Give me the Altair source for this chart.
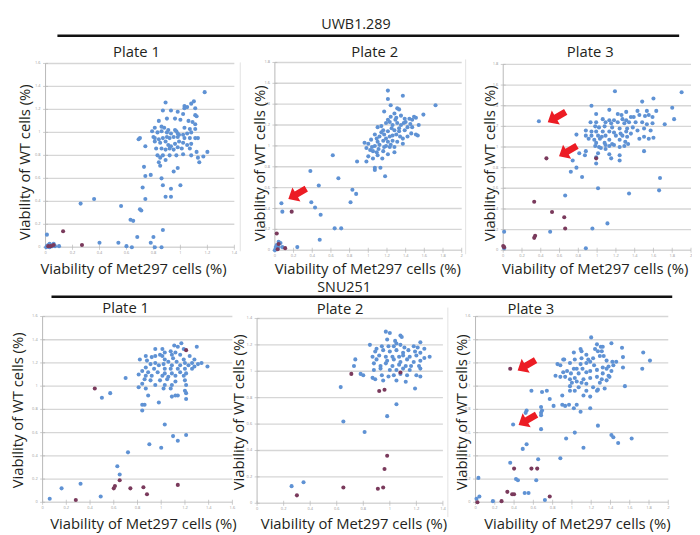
import altair as alt
import pandas as pd

# ---------------- data ----------------
TICKS_14 = [0, 0.2, 0.4, 0.6, 0.8, 1.0, 1.2, 1.4]
TICKS_16 = [0, 0.2, 0.4, 0.6, 0.8, 1.0, 1.2, 1.4, 1.6]
TICKS_18 = [0, 0.2, 0.4, 0.6, 0.8, 1.0, 1.2, 1.4, 1.6, 1.8]
TICKS_20 = [0, 0.2, 0.4, 0.6, 0.8, 1.0, 1.2, 1.4, 1.6, 1.8, 2.0]

# UWB1.289 plate 1
u1_blue = [(1.18,1.35),(0.89,1.26),(1.10,1.27),(1.08,1.25),(1.03,1.23),(1.05,1.22),(1.11,1.21),(0.87,1.19),(0.93,1.19),(1.03,1.21),
           (0.98,1.18),(1.02,1.16),(1.11,1.15),(1.12,1.14),(0.84,1.10),(0.90,1.12),(0.96,1.12),(1.00,1.11),(1.06,1.10),(1.09,1.09),
           (1.11,1.07),(0.86,1.05),(0.81,1.04),(0.88,1.04),(0.91,1.02),(0.96,1.02),(1.03,1.04),(1.07,1.03),(1.11,1.03),(0.79,1.01),
           (0.83,1.00),(0.86,1.01),(0.90,1.00),(0.93,0.99),(0.97,1.01),(0.98,0.99),(0.99,0.98),(1.02,0.98),(1.05,0.99),(1.08,1.00),
           (1.13,0.95),(0.69,0.94),(0.70,0.95),(0.80,0.96),(0.81,0.95),(0.84,0.94),(0.87,0.95),(0.90,0.96),(0.92,0.95),(0.95,0.96),
           (0.98,0.96),(1.03,0.95),(1.07,0.95),(1.11,0.95),(0.81,0.92),(0.85,0.91),(0.89,0.92),(0.91,0.89),(0.93,0.88),(0.96,0.90),
           (0.99,0.92),(1.02,0.91),(1.05,0.89),(1.08,0.90),(0.74,0.88),(0.82,0.86),(0.86,0.86),(0.89,0.85),(0.92,0.86),(0.95,0.85),
           (0.98,0.87),(1.01,0.86),(1.07,0.86),(1.12,0.83),(1.20,0.83),(1.17,0.79),(1.13,0.78),(1.08,0.80),(1.02,0.81),(0.97,0.80),
           (0.92,0.80),(0.87,0.80),(0.83,0.80),(0.85,0.78),(0.84,0.74),(0.89,0.76),(1.14,0.74),(0.85,0.71),(0.98,0.69),(0.95,0.66),
           (0.73,0.70),(0.78,0.63),(0.74,0.62),(0.86,0.60),(0.87,0.54),(1.00,0.54),(0.93,0.51),(0.72,0.52),(0.89,0.44),(0.93,0.44),
           (0.74,0.42),(0.26,0.38),(0.36,0.42),(0.56,0.36),(0.70,0.33),(0.71,0.32),(0.63,0.24),(0.65,0.23),(0.68,0.09),(0.87,0.15),
           (0.01,0.11),(0.40,0.04),(0.54,0.04),(0.60,0.01),(0.64,0.00),(0.80,0.09),(0.78,0.04),(0.81,0.00),(0.86,0.00),(0.10,0.01),
           (0.005,0.00),(0.01,0.01),(0.02,0.02),(0.03,0.00),(0.04,0.02),(0.05,0.01),(0.06,0.03),(0.03,0.03),(0.07,0.01)]
u1_dark = [(0.13,0.14),(0.27,0.02),(0.02,0.01),(0.04,0.01),(0.06,0.02)]
u1_arrows = []

# UWB1.289 plate 2
u2_blue = [(1.21,1.53),(1.37,1.48),(1.21,1.45),(1.72,1.39),(1.24,1.39),(1.31,1.36),(1.33,1.35),(1.17,1.33),(1.28,1.31),(1.35,1.29),
           (1.59,1.30),(1.49,1.28),(1.51,1.27),(1.24,1.28),(1.30,1.27),(1.39,1.26),(1.44,1.26),(1.47,1.25),(1.21,1.25),(1.10,1.18),
           (1.14,1.19),(1.19,1.22),(1.23,1.23),(1.26,1.20),(1.31,1.22),(1.35,1.20),(1.40,1.23),(1.42,1.18),(1.47,1.18),(1.54,1.20),
           (1.16,1.15),(1.21,1.14),(1.28,1.15),(1.33,1.14),(1.39,1.15),(1.46,1.12),(1.53,1.10),(1.07,1.11),(1.12,1.09),(1.17,1.11),
           (1.23,1.09),(1.30,1.11),(1.37,1.07),(1.42,1.09),(1.03,1.06),(1.10,1.04),(1.16,1.05),(1.21,1.04),(1.26,1.05),(1.31,1.04),
           (1.37,1.02),(0.96,1.03),(1.00,1.02),(1.07,1.00),(1.12,1.01),(1.17,0.99),(1.23,0.99),(1.28,0.99),(1.51,1.11),(0.98,0.98),
           (1.02,0.96),(1.05,0.95),(1.09,0.94),(1.16,0.95),(1.21,0.92),(1.28,0.94),(1.00,0.90),(1.05,0.88),(1.10,0.91),(0.98,0.85),
           (1.07,0.79),(1.13,0.79),(1.07,0.77),(1.18,0.71),(0.88,0.85),(0.62,0.91),(0.38,0.76),(0.68,0.69),(0.47,0.62),(0.83,0.58),
           (0.87,0.54),(0.81,0.46),(0.39,0.46),(0.43,0.41),(0.49,0.34),(0.07,0.45),(0.08,0.37),(0.64,0.21),(0.71,0.21),(0.48,0.10),
           (0.24,0.03),(1.25,1.17),(1.33,1.17),(1.19,1.07),(1.34,1.09),(1.14,1.13),(1.29,1.25),(1.38,1.22),(1.45,1.21),(1.26,1.10),
           (1.19,1.00),(1.11,0.97),(1.24,1.01),(1.04,0.99),(1.15,0.88),(1.09,1.07),
           (0.01,0.02),(0.02,0.05),(0.04,0.08),(0.06,0.07),(0.00,0.00),(0.04,0.03),(0.08,0.03),(0.01,0.03)]
u2_dark = [(0.18,0.37),(0.02,0.16),(0.11,0.02),(0.04,0.06),(0.03,0.01)]
u2_arrows = [(0.24,0.54)]

# UWB1.289 plate 3
u3_blue = [(1.19,1.54),(1.90,1.53),(1.48,1.44),(1.60,1.47),(0.94,1.40),(1.80,1.38),(1.13,1.36),(1.53,1.35),(1.63,1.35),(1.31,1.34),
           (1.43,1.35),(0.99,1.32),(1.22,1.32),(1.26,1.31),(1.36,1.29),(1.39,1.29),(1.45,1.31),(1.51,1.30),(1.55,1.31),(1.59,1.29),
           (1.82,1.27),(1.06,1.27),(1.13,1.26),(1.18,1.26),(1.27,1.27),(1.31,1.26),(0.93,1.24),(0.99,1.24),(1.09,1.24),(1.15,1.23),
           (1.22,1.24),(1.29,1.23),(1.34,1.24),(1.41,1.24),(1.48,1.24),(1.53,1.22),(1.59,1.23),(1.72,1.22),(0.98,1.20),(1.02,1.19),
           (1.08,1.20),(1.16,1.19),(1.24,1.18),(1.32,1.18),(1.38,1.19),(1.43,1.16),(1.50,1.18),(1.57,1.16),(0.88,1.16),(0.94,1.15),
           (0.99,1.15),(1.06,1.15),(1.13,1.15),(1.18,1.14),(1.25,1.13),(1.31,1.15),(1.36,1.13),(0.78,1.12),(0.88,1.11),(0.94,1.11),
           (1.01,1.11),(1.05,1.10),(1.09,1.11),(1.20,1.11),(1.27,1.11),(1.32,1.10),(1.45,1.08),(1.50,1.10),(1.55,1.08),(1.60,1.09),
           (0.91,1.08),(0.97,1.07),(1.03,1.08),(1.13,1.07),(1.24,1.07),(1.30,1.05),(0.99,1.04),(1.08,1.04),(1.16,1.03),(0.98,1.01),
           (1.02,1.00),(1.09,1.02),(1.13,1.01),(1.18,1.02),(1.24,1.00),(1.29,1.01),(1.33,1.03),(1.04,0.99),(1.09,0.98),(0.88,0.96),
           (0.81,0.94),(1.01,0.94),(1.13,0.93),(1.24,0.92),(0.87,0.92),(0.99,0.90),(1.15,0.89),(1.24,0.87),(0.99,0.84),(1.50,0.96),
           (0.74,0.87),(0.78,0.80),(0.72,0.76),(0.84,0.71),(1.67,0.70),(1.66,0.58),(1.01,0.60),(1.34,0.55),(0.66,0.53),(1.11,0.26),
           (0.95,0.21),(0.50,0.18),(0.01,0.18),(0.88,0.02),(0.38,1.25),(0.01,0.02)]
u3_dark = [(0.46,0.89),(0.99,0.89),(0.33,0.47),(0.52,0.37),(0.65,0.32),(0.66,0.21),(0.33,0.12),(0.34,0.14),(0.01,0.03),(0.00,0.04)]
u3_arrows = [(0.57,1.29),(0.69,0.96)]

# SNU251 plate 1
s1_blue = [(1.17,1.37),(1.11,1.35),(0.95,1.32),(1.01,1.32),(1.30,1.34),(1.14,1.34),(1.19,1.32),(1.08,1.30),(1.03,1.29),(1.12,1.29),
           (0.99,1.27),(0.95,1.26),(1.01,1.26),(1.09,1.27),(1.16,1.27),(1.24,1.26),(0.87,1.26),(0.92,1.25),(1.03,1.23),(1.10,1.24),
           (1.19,1.23),(1.28,1.23),(0.82,1.23),(0.88,1.22),(0.95,1.20),(1.06,1.21),(1.13,1.21),(1.20,1.20),(1.26,1.20),(1.31,1.19),
           (1.39,1.17),(1.34,1.20),(0.91,1.19),(0.98,1.18),(1.02,1.19),(1.09,1.18),(1.16,1.18),(1.23,1.18),(1.28,1.17),(0.87,1.16),
           (0.94,1.15),(1.03,1.15),(1.08,1.15),(1.14,1.15),(1.20,1.15),(1.26,1.15),(0.84,1.13),(0.89,1.12),(0.97,1.12),(1.03,1.11),
           (1.09,1.11),(1.16,1.12),(1.21,1.11),(0.81,1.10),(0.87,1.09),(0.92,1.09),(1.01,1.09),(1.06,1.08),(1.12,1.09),(1.19,1.09),
           (0.86,1.06),(0.91,1.05),(0.99,1.05),(1.05,1.06),(1.12,1.04),(1.20,1.05),(0.70,1.07),(0.84,1.02),(0.95,1.01),(1.03,1.01),
           (1.09,1.01),(1.21,1.01),(0.81,0.99),(0.87,0.98),(1.02,0.98),(1.08,0.98),(1.20,0.96),(0.57,0.94),(0.50,0.90),(0.89,0.92),
           (1.12,0.92),(1.14,0.92),(1.21,0.94),(1.21,0.89),(1.09,0.91),(0.98,0.86),(0.84,0.84),(0.86,0.84),(0.84,0.79),(1.03,0.67),
           (1.10,0.57),(1.14,0.53),(1.21,0.58),(0.90,0.50),(1.00,0.47),(0.72,0.43),(0.63,0.31),(0.65,0.24),(0.16,0.12),(0.32,0.16),
           (0.06,0.03),(0.49,0.05)]
s1_dark = [(1.21,1.31),(0.44,0.98),(0.65,0.19),(0.61,0.14),(0.60,0.12),(0.74,0.12),(0.85,0.13),(0.88,0.07),(1.14,0.15),(0.28,0.02)]
s1_arrows = []

# SNU251 plate 2
s2_blue = [(0.97,1.30),(1.00,1.29),(1.08,1.27),(1.09,1.26),(0.98,1.24),(1.04,1.23),(1.05,1.21),(1.23,1.22),(0.85,1.20),(0.90,1.17),
           (0.94,1.19),(0.99,1.19),(1.03,1.19),(1.08,1.20),(1.11,1.18),(1.18,1.19),(1.21,1.18),(1.26,1.17),(0.89,1.15),(0.95,1.16),
           (1.00,1.15),(1.05,1.16),(1.10,1.14),(1.14,1.16),(1.19,1.15),(1.23,1.14),(0.87,1.11),(0.92,1.12),(0.97,1.11),(1.02,1.11),
           (1.07,1.11),(1.10,1.12),(1.15,1.11),(1.20,1.12),(1.26,1.10),(1.30,1.11),(0.74,1.09),(0.90,1.09),(0.98,1.08),(1.03,1.09),
           (1.08,1.07),(1.13,1.09),(1.18,1.07),(1.23,1.08),(0.88,1.06),(0.93,1.04),(0.97,1.06),(1.02,1.04),(1.07,1.05),(1.12,1.04),
           (1.16,1.04),(1.22,1.04),(0.73,1.04),(0.88,1.01),(0.93,1.02),(1.00,1.01),(1.05,1.01),(1.10,1.02),(1.15,1.01),(1.23,1.02),
           (0.78,0.98),(0.80,0.97),(0.87,0.95),(0.89,0.94),(0.94,0.97),(0.99,0.96),(1.03,0.97),(1.08,0.98),(1.13,0.97),(1.20,0.97),
           (1.23,0.96),(0.95,0.93),(1.05,0.93),(1.12,0.92),(1.19,0.87),(0.63,0.88),(1.05,0.75),(0.98,0.66),(0.65,0.62),(0.81,0.54),
           (0.26,0.13),(0.35,0.16)]
s2_dark = [(0.71,0.98),(1.08,0.99),(0.92,0.85),(0.96,0.86),(0.98,0.36),(0.96,0.26),(0.30,0.06),(0.65,0.12),(0.91,0.11),(0.95,0.12)]
s2_arrows = []

# SNU251 plate 3
s3_blue = [(1.20,1.42),(1.41,1.37),(1.26,1.36),(1.30,1.34),(1.32,1.34),(1.52,1.33),(1.09,1.32),(1.10,1.30),(1.24,1.32),(1.27,1.30),
           (1.31,1.30),(1.74,1.29),(1.02,1.29),(1.15,1.27),(1.29,1.26),(1.33,1.26),(1.53,1.25),(0.91,1.23),(0.92,1.23),(1.03,1.23),
           (1.10,1.24),(1.17,1.23),(1.22,1.24),(1.19,1.21),(1.36,1.22),(1.42,1.21),(1.46,1.21),(1.81,1.22),(0.85,1.19),(0.88,1.18),
           (0.98,1.20),(1.09,1.19),(1.15,1.20),(1.23,1.18),(1.32,1.16),(1.38,1.17),(1.43,1.18),(1.53,1.16),(1.73,1.15),(1.02,1.15),
           (1.05,1.15),(1.11,1.15),(1.19,1.13),(1.26,1.14),(1.36,1.15),(1.41,1.13),(0.95,1.13),(0.91,1.12),(0.99,1.11),(1.07,1.11),
           (1.15,1.12),(1.32,1.11),(1.38,1.09),(0.83,1.09),(0.88,1.08),(0.93,1.08),(0.98,1.06),(1.03,1.07),(1.12,1.06),(1.19,1.07),
           (1.26,1.08),(1.31,1.06),(1.39,1.08),(1.00,1.03),(1.05,1.04),(1.10,1.03),(1.15,1.02),(1.29,1.03),(1.36,1.05),(1.55,1.00),
           (0.98,1.00),(1.07,0.99),(1.22,0.99),(1.27,0.97),(1.34,0.98),(0.58,0.96),(0.69,0.95),(0.74,0.96),(0.98,0.96),(1.03,0.96),
           (1.15,0.96),(1.26,0.96),(0.77,0.89),(0.90,0.92),(1.12,0.92),(1.19,0.91),(0.81,0.83),(0.90,0.84),(0.93,0.83),(0.97,0.84),
           (1.02,0.81),(1.05,0.84),(1.09,0.78),(1.19,0.81),(0.68,0.82),(0.69,0.79),(0.68,0.77),(0.53,0.79),(0.52,0.77),(0.68,0.75),
           (0.39,0.67),(0.68,0.63),(1.03,0.60),(1.27,0.66),(1.41,0.58),(1.43,0.56),(1.48,0.51),(1.62,0.55),(0.94,0.55),(1.12,0.47),
           (0.53,0.50),(0.49,0.46),(0.65,0.37),(0.88,0.38),(0.36,0.34),(0.42,0.20),(0.44,0.19),(0.63,0.19),(0.03,0.21),(0.51,0.08),
           (0.55,0.08),(0.04,0.05),(0.01,0.03),(0.18,0.01),(0.72,0.02)]
s3_dark = [(0.36,1.15),(0.40,0.29),(0.58,0.29),(0.64,0.29),(0.33,0.09),(0.38,0.07),(0.40,0.07),(0.27,0.01),(0.77,0.05),(0.02,0.00)]
s3_arrows = [(0.53,1.18),(0.54,0.71)]

SECTIONS = ["UWB1.289", "SNU251"]
PLATES = ["Plate  1", "Plate 2", "Plate 3"]
X_TITLE = "Viability of Met297 cells (%)"
Y_TITLE = "Viability of WT cells (%)"

# ---------------- style / layout ----------------
W, H = 692, 527
FONT = "Open Sans"
BLUE = "#5f92d4"
DARK = "#7a3a5c"
RED = "#ec1c24"
GRID = "#d6d6d6"
AXC = "#b8b8b8"
LAB = "#9a9a9a"
SEP = "#e2e2e2"
ARROW = "M -1 0 L -0.1 -0.78 L -0.1 -0.32 L 1 -0.32 L 1 0.32 L -0.1 0.32 L -0.1 0.78 Z"

# panel geometry (pixels in chart coordinates)
PANELS = [
    dict(blue=u1_blue, dark=u1_dark, arrows=u1_arrows, xt=TICKS_14, yt=TICKS_16,
         x0=38, x1=229, y0=239, y1=53, title=(PLATES[0], 130, 41), ytl=(17, 153), xtl=(127, 261)),
    dict(blue=u2_blue, dark=u2_dark, arrows=u2_arrows, xt=TICKS_20, yt=TICKS_18,
         x0=270, x1=459, y0=242, y1=52, title=(PLATES[1], 371, 41), ytl=(255, 154), xtl=(364, 261)),
    dict(blue=u3_blue, dark=u3_dark, arrows=u3_arrows, xt=TICKS_20, yt=TICKS_18,
         x0=501, x1=691, y0=242, y1=54, title=(PLATES[2], 589, 41), ytl=(488, 154), xtl=(594, 261)),
    dict(blue=s1_blue, dark=s1_dark, arrows=s1_arrows, xt=TICKS_16, yt=TICKS_16,
         x0=35, x1=227, y0=497, y1=309, title=(PLATES[0], 119, 300), ytl=(10, 404), xtl=(137, 519)),
    dict(blue=s2_blue, dark=s2_dark, arrows=s2_arrows, xt=TICKS_14, yt=TICKS_14,
         x0=252, x1=440, y0=498, y1=311, title=(PLATES[1], 336, 302), ytl=(234, 406), xtl=(350, 519)),
    dict(blue=s3_blue, dark=s3_dark, arrows=s3_arrows, xt=TICKS_20, yt=TICKS_16,
         x0=473, x1=668, y0=497, y1=309, title=(PLATES[2], 529, 302), ytl=(459, 406), xtl=(576, 519)),
]
# faint panel-frame separators (x, y top, y bottom)
SEPARATORS = [(235, 52, 243), (463, 49, 246), (445, 300, 512)]


def fmt(v):
    return "0" if v == 0 else ("1" if v == 1 else ("2" if v == 2 else f"{v:g}"))


def text_at(label, x, y, size, angle=0, weight="normal"):
    return alt.Chart(pd.DataFrame({"s": [label]})).mark_text(
        font=FONT, fontSize=size, color="#231f20", angle=angle, align="center",
        baseline="middle", fontWeight=weight
    ).encode(x=alt.value(x), y=alt.value(y), text="s:N")


def panel(p):
    xmax, ymax = p["xt"][-1], p["yt"][-1]
    xs = alt.Scale(domain=[0, xmax], range=[p["x0"], p["x1"]], nice=False, zero=False)
    ys = alt.Scale(domain=[0, ymax], range=[p["y0"], p["y1"]], nice=False, zero=False)
    X = lambda f: alt.X(f, scale=xs, axis=None)
    Y = lambda f: alt.Y(f, scale=ys, axis=None)

    gdf = pd.DataFrame({"t": p["yt"], "a": 0.0, "b": xmax, "lab": [fmt(v) for v in p["yt"]]})
    xdf = pd.DataFrame({"t": p["xt"], "z": 0.0, "lab": [fmt(v) for v in p["xt"]]})
    adf = pd.DataFrame({"a": [0.0], "lo": [0.0], "hi": [ymax]})

    grid = alt.Chart(gdf).mark_rule(color=GRID, strokeWidth=1.4).encode(
        x=X("a:Q"), x2="b:Q", y=Y("t:Q"))
    yaxis = alt.Chart(adf).mark_rule(color=AXC, strokeWidth=1).encode(
        x=X("a:Q"), y=Y("lo:Q"), y2="hi:Q")
    yticks = alt.Chart(gdf).mark_tick(orient="horizontal", size=5, thickness=1, color=AXC).encode(
        x=X("a:Q"), y=Y("t:Q"))
    xticks = alt.Chart(xdf).mark_tick(orient="vertical", size=5, thickness=1, color=AXC).encode(
        x=X("t:Q"), y=Y("z:Q"))
    ylab = alt.Chart(gdf).mark_text(font=FONT, fontSize=4, color=LAB, align="right",
                                    baseline="middle", dx=-5).encode(
        x=X("a:Q"), y=Y("t:Q"), text="lab:N")
    xlab = alt.Chart(xdf).mark_text(font=FONT, fontSize=4, color=LAB, align="center",
                                    baseline="middle", dy=5.5).encode(
        x=X("t:Q"), y=Y("z:Q"), text="lab:N")

    bdf = pd.DataFrame(p["blue"], columns=["vx", "vy"])
    ddf = pd.DataFrame(p["dark"], columns=["vx", "vy"])
    blue = alt.Chart(bdf).mark_circle(size=17, color=BLUE, opacity=1).encode(
        x=X("vx:Q"), y=Y("vy:Q"))
    dark = alt.Chart(ddf).mark_circle(size=17, color=DARK, opacity=1).encode(
        x=X("vx:Q"), y=Y("vy:Q"))
    layers = [grid, yaxis, yticks, xticks, ylab, xlab, blue, dark]
    if p["arrows"]:
        rdf = pd.DataFrame(p["arrows"], columns=["vx", "vy"])
        layers.append(alt.Chart(rdf).mark_point(
            shape=ARROW, filled=True, color=RED, opacity=1, size=440, angle=330, strokeWidth=0
        ).encode(x=X("vx:Q"), y=Y("vy:Q")))
    t, tx, ty = p["title"]
    layers.append(text_at(t, tx, ty, 15))
    layers.append(text_at(Y_TITLE, p["ytl"][0], p["ytl"][1], 15, angle=270))
    layers.append(text_at(X_TITLE, p["xtl"][0], p["xtl"][1], 15))
    return alt.layer(*layers)


def header(label, tx, ty, lx0, lx1, ly):
    line = alt.Chart(pd.DataFrame({"s": [label]})).mark_rule(color="#111111", strokeWidth=2.6).encode(
        x=alt.value(lx0), x2=alt.value(lx1), y=alt.value(ly))
    return alt.layer(line, text_at(label, tx, ty, 14.5))


def separator(x, ya, yb):
    return alt.Chart(pd.DataFrame({"s": [0]})).mark_rule(color=SEP, strokeWidth=1).encode(
        x=alt.value(x), y=alt.value(ya), y2=alt.value(yb))


panels = [panel(p) for p in PANELS]
heads = [header(SECTIONS[0], 352, 14, 50, 679, 25),
         header(SECTIONS[1], 340, 280, 44, 672, 289)]
seps = [separator(*s) for s in SEPARATORS]

chart = alt.layer(*seps, *panels, *heads).resolve_scale(
    x="independent", y="independent"
).properties(
    width=W, height=H, padding=0, autosize=alt.AutoSizeParams(type="none")
).configure_view(strokeWidth=0)

chart.save("out.html", embed_options={"renderer": "svg", "actions": False})
